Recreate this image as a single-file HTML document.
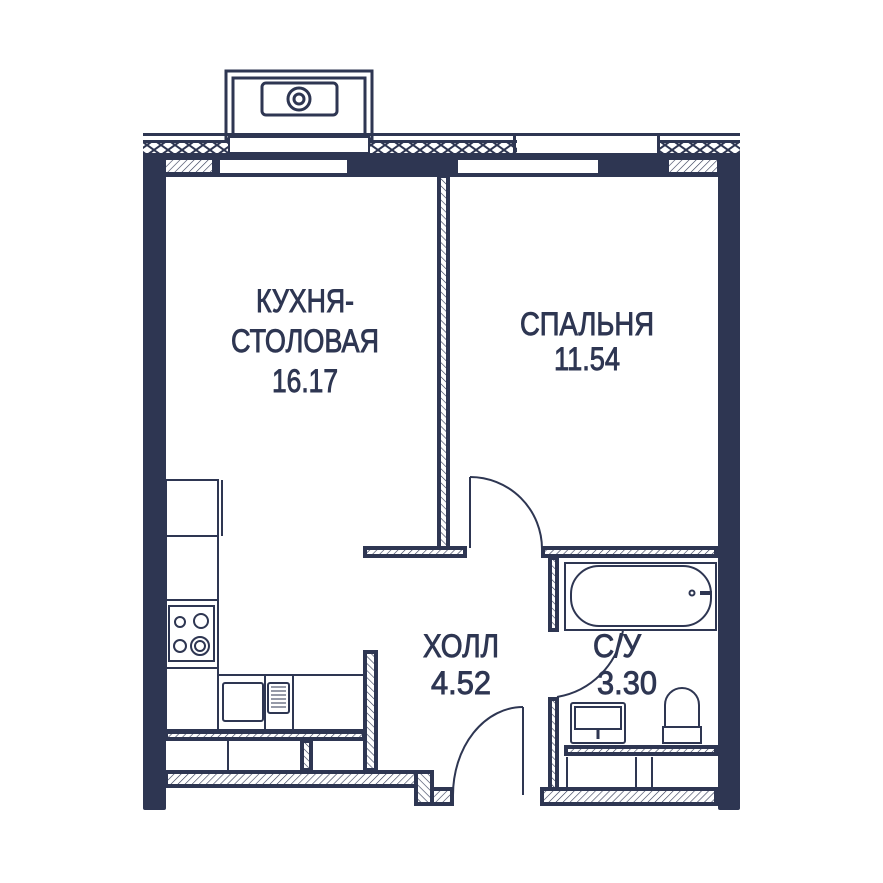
<!DOCTYPE html>
<html><head><meta charset="utf-8"><style>html,body{margin:0;padding:0;background:#fff}svg{display:block}</style></head><body>
<svg width="883" height="883" viewBox="0 0 883 883" xmlns="http://www.w3.org/2000/svg">
<defs>
<pattern id="h" width="5" height="5" patternUnits="userSpaceOnUse" patternTransform="rotate(45)"><rect width="5" height="5" fill="#fff"/><line x1="0" y1="0" x2="0" y2="5" stroke="#2e3652" stroke-width="1.2"/></pattern>
<pattern id="h2" width="5" height="5" patternUnits="userSpaceOnUse" patternTransform="rotate(-45)"><rect width="5" height="5" fill="#fff"/><line x1="0" y1="0" x2="0" y2="5" stroke="#2e3652" stroke-width="1.2"/></pattern>
<pattern id="x" width="14" height="10" patternUnits="userSpaceOnUse"><rect width="14" height="10" fill="#fff"/><path d="M0 0L14 10M14 0L0 10" stroke="#2e3652" stroke-width="2"/></pattern>
</defs>
<g fill="#2e3652" stroke="none">
<rect x="143" y="133" width="597" height="3"/>
<rect x="143" y="140" width="597" height="3"/>
<rect x="143" y="143" width="597" height="10" fill="url(#x)"/>
<rect x="143" y="153" width="597" height="4"/>
<rect x="143" y="157" width="597" height="17"/>
<rect x="166" y="160" width="46" height="12" fill="url(#h)"/>
<rect x="220" y="160" width="127" height="13" fill="#fff"/>
<rect x="458" y="160" width="140" height="13" fill="#fff"/>
<rect x="669" y="160" width="48" height="12" fill="url(#h)"/>
<rect x="143" y="174" width="597" height="3"/>
<rect x="230" y="138" width="140" height="15" fill="#fff"/>
<rect x="517" y="138" width="140" height="15" fill="#fff"/>
<rect x="513" y="136" width="3" height="17"/>
<rect x="657" y="136" width="3" height="17"/>
<rect x="143" y="160" width="23" height="650" rx="2"/>
<rect x="718" y="160" width="22" height="650" rx="2"/>
</g>
<g fill="none" stroke="#2e3652" stroke-width="3">
<rect x="226" y="71" width="146" height="68"/>
<rect x="233" y="78" width="132" height="61"/>
<rect x="262" y="83" width="75" height="32" rx="4"/>
<circle cx="299" cy="99" r="11"/>
<circle cx="299" cy="99" r="5"/>
</g>
<rect x="229" y="137" width="140" height="16" fill="#fff" stroke="#2e3652" stroke-width="2"/>
<g stroke="#2e3652" stroke-width="4">
<rect x="439" y="176" width="9" height="375" fill="url(#h2)"/>
<rect x="365" y="548" width="100" height="8" fill="url(#h)"/>
<rect x="543" y="548" width="173" height="8" fill="url(#h)"/>
<rect x="550" y="558" width="7" height="72" fill="url(#h2)"/>
<rect x="550" y="699" width="7" height="100" fill="url(#h2)"/>
<rect x="542" y="789" width="174" height="15" fill="url(#h)"/>
<rect x="365" y="652" width="11" height="118" fill="url(#h2)"/>
<rect x="166" y="772" width="250" height="14" fill="url(#h)"/>
<rect x="416" y="772" width="16" height="32" fill="url(#h2)"/>
<rect x="432" y="789" width="20" height="15" fill="url(#h)"/>
<rect x="166" y="732" width="198" height="7" fill="url(#h)"/>
<rect x="302" y="741" width="9" height="29" fill="url(#h2)"/>
<rect x="566" y="747" width="150" height="7" fill="url(#h)"/>
</g>
<g fill="none" stroke="#2e3652" stroke-width="2">
<path d="M470 477 A72 72 0 0 1 542 549"/>
<line x1="470" y1="477" x2="470" y2="548"/>
<path d="M557 697 A80 80 0 0 0 623 630"/>
<path d="M453 795 A70 88 0 0 1 523 707"/>
<line x1="523" y1="707" x2="523" y2="795"/>
</g>
<g fill="none" stroke="#2e3652" stroke-width="2">
<rect x="166" y="480" width="52" height="250"/>
<line x1="166" y1="536" x2="218" y2="536"/>
<line x1="218" y1="480" x2="218" y2="536"/>
<line x1="222" y1="480" x2="222" y2="536"/>
<line x1="166" y1="600" x2="218" y2="600"/>
<line x1="166" y1="668" x2="218" y2="668"/>
<rect x="169" y="606" width="45" height="55"/>
<circle cx="180" cy="622" r="5"/><circle cx="201" cy="621" r="7"/>
<circle cx="180" cy="646" r="6"/><circle cx="200" cy="646" r="9"/><circle cx="200" cy="646" r="5"/>
<rect x="218" y="675" width="146" height="55"/>
<line x1="293" y1="675" x2="293" y2="730"/>
<line x1="265" y1="675" x2="265" y2="730"/>
<rect x="223" y="683" width="40" height="38" rx="2"/>
<rect x="268" y="683" width="21" height="30" rx="2"/>
<path d="M271 687h15M271 691h15M271 695h15M271 699h15M271 703h15M271 707h15" stroke-width="1"/>
<line x1="228" y1="741" x2="228" y2="770"/>
<line x1="567" y1="757" x2="567" y2="789"/>
<line x1="636" y1="757" x2="636" y2="789"/>
<line x1="652" y1="757" x2="652" y2="789"/>
<rect x="565" y="563" width="151" height="67"/>
<rect x="571" y="566" width="140" height="60" rx="28"/>
<circle cx="692" cy="593" r="2.5"/>
<rect x="571" y="703" width="54" height="40" rx="2"/>
<rect x="575" y="707" width="46" height="22"/>
<line x1="598" y1="729" x2="598" y2="739" stroke-width="3"/>
<path d="M665 727 V705 A17 17 0 0 1 699 705 V727"/>
<path d="M663 727 H701 V743 H663 Z"/>
</g>
<rect x="700" y="591" width="12" height="4" fill="#2e3652"/>
<g font-family="'Liberation Sans', sans-serif" font-size="32" fill="#2e3652" stroke="#2e3652" stroke-width="0.9" text-anchor="middle">
<text x="305" y="312" textLength="98" lengthAdjust="spacingAndGlyphs">КУХНЯ-</text>
<text x="305" y="352" textLength="148" lengthAdjust="spacingAndGlyphs">СТОЛОВАЯ</text>
<text x="305" y="392" textLength="66" lengthAdjust="spacingAndGlyphs">16.17</text>
<text x="587" y="335" textLength="134" lengthAdjust="spacingAndGlyphs">СПАЛЬНЯ</text>
<text x="587" y="370" textLength="66" lengthAdjust="spacingAndGlyphs">11.54</text>
<text x="461" y="657" textLength="76" lengthAdjust="spacingAndGlyphs">ХОЛЛ</text>
<text x="461" y="694" textLength="60" lengthAdjust="spacingAndGlyphs">4.52</text>
<text x="617" y="657" textLength="48" lengthAdjust="spacingAndGlyphs">С/У</text>
<text x="627" y="694" textLength="60" lengthAdjust="spacingAndGlyphs">3.30</text>
</g>
</svg>
</body></html>
